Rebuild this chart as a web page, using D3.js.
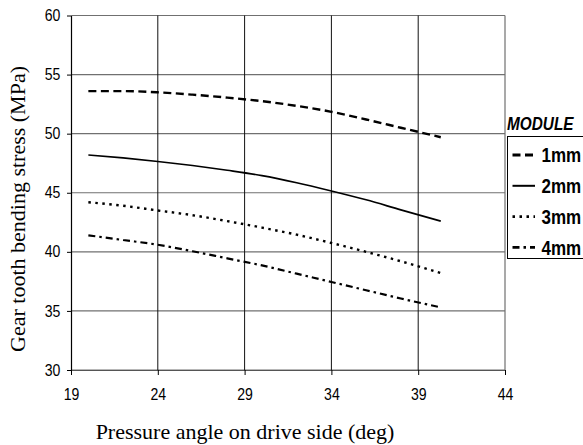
<!DOCTYPE html>
<html><head><meta charset="utf-8">
<script src="https://cdn.jsdelivr.net/npm/d3@7"></script>
<style>body{margin:0;background:#fff}svg{display:block}</style>
</head><body>
<svg id="c" width="583" height="445"></svg>
<script>
const xValues = [20, 22, 24, 26, 28, 30, 32, 34, 36, 38, 40.3];
const seriesNames = ["1mm", "2mm", "3mm", "4mm"];
const s1mm = [53.6, 53.6, 53.5, 53.3, 53.05, 52.75, 52.35, 51.85, 51.2, 50.5, 49.7];
const s2mm = [48.2, 47.95, 47.65, 47.3, 46.9, 46.45, 45.85, 45.15, 44.4, 43.55, 42.6];
const s3mm = [44.2, 43.9, 43.5, 43.1, 42.6, 42.05, 41.45, 40.75, 40.0, 39.2, 38.2];
const s4mm = [41.4, 41.0, 40.6, 40.05, 39.45, 38.85, 38.15, 37.45, 36.75, 36.05, 35.3];
const xTicks = [19, 24, 29, 34, 39, 44];
const yTicks = [30, 35, 40, 45, 50, 55, 60];
const legendTitle = "MODULE";
const xLabel = "Pressure angle on drive side (deg)";
const yLabel = "Gear tooth bending stress (MPa)";

const series = [s1mm, s2mm, s3mm, s4mm];
const styles = [
  {dash: "8,4.5", w: 2.4},
  {dash: null, w: 1.6},
  {dash: "2.5,4.5", w: 2.4},
  {dash: "7,4,2.5,4", w: 2.2}
];

const svg = d3.select("#c");
const L = 71, R = 505, T = 15.5, B = 370;
const x = d3.scaleLinear().domain([19, 44]).range([L, R]);
const y = d3.scaleLinear().domain([30, 60]).range([B, T]);
const sans = "'Liberation Sans', Arial, sans-serif";
const serif = "'Liberation Serif', 'Times New Roman', serif";

// horizontal grid
svg.append("g").selectAll("line").data(yTicks).join("line")
  .attr("x1", L).attr("x2", R).attr("y1", d => y(d)).attr("y2", d => y(d))
  .attr("stroke", "#707070").attr("stroke-width", 1.2);
// vertical grid
svg.append("g").selectAll("line").data(xTicks.slice(1, -1)).join("line")
  .attr("x1", d => x(d)).attr("x2", d => x(d)).attr("y1", T).attr("y2", B)
  .attr("stroke", "#111").attr("stroke-width", 1);
// right border
svg.append("line").attr("x1", R).attr("x2", R).attr("y1", T).attr("y2", B)
  .attr("stroke", "#707070").attr("stroke-width", 1.2);

// axes
const yAxis = svg.append("g").attr("transform", `translate(${L},0)`)
  .call(d3.axisLeft(y).tickValues(yTicks).tickSize(4).tickPadding(8).tickSizeOuter(0));
const xAxis = svg.append("g").attr("transform", `translate(0,${B})`)
  .call(d3.axisBottom(x).tickValues(xTicks).tickSize(5).tickPadding(14).tickSizeOuter(0));
[yAxis, xAxis].forEach(a => {
  a.select(".domain").attr("stroke", "#000").attr("stroke-width", 1.2);
  a.selectAll(".tick line").attr("stroke", "#000");
  a.selectAll("text").attr("font-family", sans).attr("font-size", 16).attr("fill", "#000")
    .attr("transform", "scale(0.88,1)");
});
xAxis.select(".domain").attr("stroke", "#555");

// lines
const line = d3.line().x((d, i) => x(xValues[i])).y(d => y(d)).curve(d3.curveMonotoneX);
series.forEach((s, i) => {
  svg.append("path").datum(s).attr("d", line)
    .attr("fill", "none").attr("stroke", "#000")
    .attr("stroke-width", styles[i].w)
    .attr("stroke-dasharray", styles[i].dash);
});

// axis labels
svg.append("text").attr("x", 245).attr("y", 439).attr("text-anchor", "middle")
  .attr("font-family", serif).attr("font-size", 22)
  .text(xLabel);
svg.append("text").attr("transform", "translate(25,209) rotate(-90)").attr("text-anchor", "middle")
  .attr("font-family", serif).attr("font-size", 22)
  .text(yLabel);

// legend
svg.append("text").attr("transform", "translate(507,130) scale(0.83,1)")
  .attr("font-family", sans).attr("font-size", 18.5).attr("font-weight", "bold").attr("font-style", "italic")
  .text(legendTitle);
svg.append("rect").attr("x", 507.5).attr("y", 136.5).attr("width", 90).attr("height", 122)
  .attr("fill", "#fff").attr("stroke", "#000").attr("stroke-width", 1);
seriesNames.forEach((n, i) => {
  const yy = 155 + i * 30.8;
  svg.append("line").attr("x1", 512.5).attr("x2", 535).attr("y1", yy).attr("y2", yy)
    .attr("stroke", "#000").attr("stroke-width", styles[i].w + 0.4)
    .attr("stroke-dasharray", styles[i].dash);
  svg.append("text").attr("transform", `translate(541.5,${yy + 7.3}) scale(0.85,1)`)
    .attr("font-family", sans).attr("font-size", 20).attr("font-weight", "bold")
    .text(n);
});
</script>
</body></html>
